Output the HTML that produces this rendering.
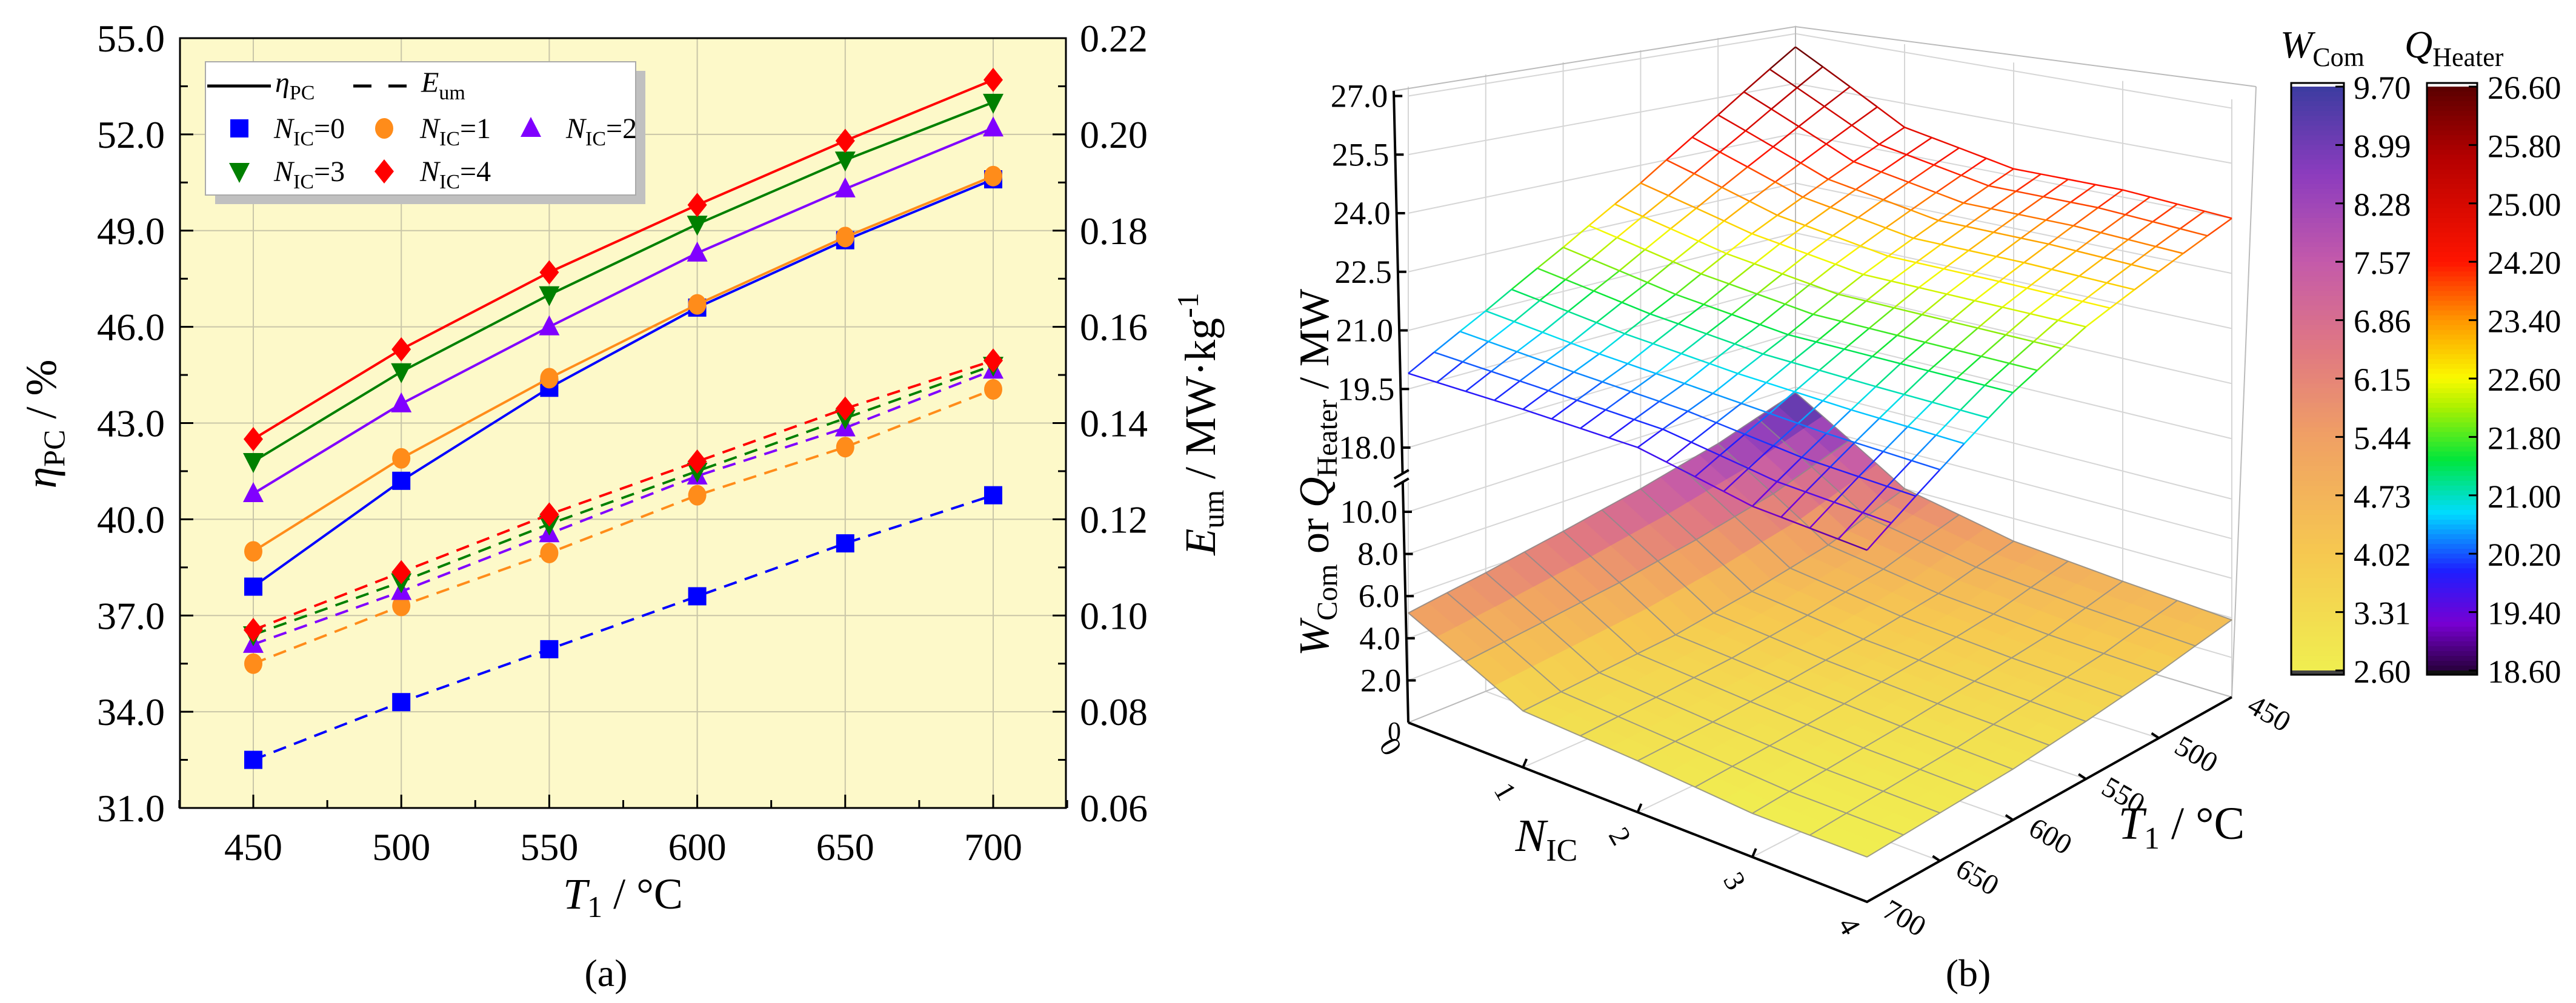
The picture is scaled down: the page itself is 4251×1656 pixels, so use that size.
<!DOCTYPE html>
<html><head><meta charset="utf-8"><style>
html,body{margin:0;padding:0;background:#fff}
svg{display:block;font-family:"Liberation Serif",serif}
</style></head><body>
<svg id="fig" width="4251" height="1656" viewBox="0 0 4251 1656" xmlns="http://www.w3.org/2000/svg">
<g id="pa"></g>
<g id="pb"></g>
</svg>
<script>
// ---------- Panel (a) data ----------
const temps = [450, 500, 550, 600, 650, 700];
const seriesNames = ["NIC=0","NIC=1","NIC=2","NIC=3","NIC=4"];
const etaN0 = [37.9, 41.2, 44.1, 46.6, 48.7, 50.6];
const etaN1 = [39.0, 41.9, 44.4, 46.7, 48.8, 50.7];
const etaN2 = [40.8, 43.6, 46.0, 48.3, 50.3, 52.2];
const etaN3 = [41.8, 44.6, 47.0, 49.2, 51.2, 53.0];
const etaN4 = [42.5, 45.3, 47.7, 49.8, 51.8, 53.7];
const eumN0 = [0.070, 0.082, 0.093, 0.104, 0.115, 0.125];
const eumN1 = [0.090, 0.102, 0.113, 0.125, 0.135, 0.147];
const eumN2 = [0.094, 0.105, 0.117, 0.129, 0.139, 0.151];
const eumN3 = [0.096, 0.107, 0.119, 0.130, 0.141, 0.152];
const eumN4 = [0.097, 0.109, 0.121, 0.132, 0.143, 0.153];
const leftTicks = [31, 34, 37, 40, 43, 46, 49, 52, 55];
const rightTicks = [0.06, 0.08, 0.10, 0.12, 0.14, 0.16, 0.18, 0.20, 0.22];
const xTicks = [450, 500, 550, 600, 650, 700];

// ---------- Panel (b) data (rows NIC 0..4, cols T1 450..700) ----------
const nicVals = [0, 1, 2, 3, 4];
const t1Vals = [450, 500, 550, 600, 650, 700];
const qN0 = [26.6, 25.0, 23.5, 22.2, 21.0, 19.9];
const qN1 = [24.8, 23.8, 22.8, 21.7, 20.7, 19.86];
const qN2 = [24.2, 23.3, 22.4, 21.4, 20.5, 19.77];
const qN3 = [24.2, 23.3, 22.4, 21.4, 20.3, 19.2];
const qN4 = [24.0, 23.2, 22.4, 21.4, 20.2, 19.0];
const wN0 = [9.7, 8.3, 7.3, 6.5, 5.8, 5.2];
const wN1 = [6.0, 4.6, 3.8, 3.2, 2.9, 2.6];
const wN2 = [4.8, 3.8, 3.2, 2.8, 2.5, 2.3];
const wN3 = [4.3, 3.4, 2.9, 2.5, 2.2, 1.9];
const wN4 = [3.9, 3.2, 2.7, 2.3, 2.1, 1.9];
const wBarLabels = ["9.70","8.99","8.28","7.57","6.86","6.15","5.44","4.73","4.02","3.31","2.60"];
const qBarLabels = ["26.60","25.80","25.00","24.20","23.40","22.60","21.80","21.00","20.20","19.40","18.60"];
const zLowTicks = [2, 4, 6, 8, 10];
const zHighTicks = [18, 19.5, 21, 22.5, 24, 25.5, 27];

const NS = "http://www.w3.org/2000/svg";
function mk(parent, tag, attrs, text) {
  const e = document.createElementNS(NS, tag);
  for (const k in attrs) e.setAttribute(k, attrs[k]);
  if (text !== undefined) e.textContent = text;
  parent.appendChild(e);
  return e;
}

// ================= Panel (a) =================
(function(){
  const g = document.getElementById('pa');
  const L = 297, R = 1759, T = 63, B = 1334;
  const xS = t => 418 + (t - 450) / 250 * (1639 - 418);
  const yL = v => B - (v - 31) / 24 * (B - T);
  const yR = e => B - (e - 0.06) / 0.16 * (B - T);
  let r = mk(g, 'rect', {x:L, y:T, width:R-L, height:B-T, fill:'#fdf9c9'});
  
  
  xTicks.forEach(t => {
    const l = mk(g, 'line', {x1:xS(t), x2:xS(t), y1:T, y2:B, stroke:'#c9c6a8', 'stroke-width':2});
    
    
  });
  leftTicks.forEach(v => {
    const l = mk(g, 'line', {x1:L, x2:R, y1:yL(v), y2:yL(v), stroke:'#c9c6a8', 'stroke-width':2});
    
    
  });
  const fr = mk(g, 'rect', {x:L, y:T, width:R-L, height:B-T, fill:'none', stroke:'#000', 'stroke-width':3});
  
  
  const tk = mk(g, 'g', {stroke:'#000', 'stroke-width':3});
  
  
  for (let t = 425; t <= 725; t += 25) {
    const len = (t % 50 === 0) ? 22 : 13;
    mk(tk, 'line', {x1:xS(t), x2:xS(t), y1:B, y2:B-len});
  }
  for (let v = 31; v <= 55; v += 1.5) {
    const len = (Math.abs((v - 31) % 3) < 0.01) ? 22 : 13;
    mk(tk, 'line', {x1:L, x2:L+len, y1:yL(v), y2:yL(v)});
  }
  for (let e = 0.06; e <= 0.2201; e += 0.01) {
    const len = (Math.round(e * 100) % 2 === 0) ? 22 : 13;
    mk(tk, 'line', {x1:R, x2:R-len, y1:yR(e), y2:yR(e)});
  }
  leftTicks.forEach(v => {
    const t = mk(g, 'text', {x:272, y:yL(v)+22, 'font-size':64, 'text-anchor':'end'}, v.toFixed(1));
    
    
  });
  rightTicks.forEach(e => {
    const t = mk(g, 'text', {x:1782, y:yR(e)+22, 'font-size':64}, e.toFixed(2));
    
    
  });
  xTicks.forEach(x => {
    const t = mk(g, 'text', {x:xS(x), y:1420, 'font-size':64, 'text-anchor':'middle'}, String(x));
    
    
  });
  let at = mk(g, 'text', {x:1028, y:1500, 'font-size':72, 'text-anchor':'middle'});
  
  
  at.innerHTML = '<tspan font-style="italic">T</tspan><tspan font-size="50" dy="14">1</tspan><tspan dy="-14"> / °C</tspan>';
  at = mk(g, 'text', {transform:'translate(92,700) rotate(-90)', 'font-size':72, 'text-anchor':'middle'});
  
  
  at.innerHTML = '<tspan font-style="italic">η</tspan><tspan font-size="50" dy="14">PC</tspan><tspan dy="-14"> / %</tspan>';
  at = mk(g, 'text', {transform:'translate(2005,700) rotate(-90)', 'font-size':72, 'text-anchor':'middle'});
  
  
  at.innerHTML = '<tspan font-style="italic">E</tspan><tspan font-size="50" dy="14">um</tspan><tspan dy="-14"> / MW·kg</tspan><tspan font-size="50" dy="-28">-1</tspan>';
  at = mk(g, 'text', {x:1000, y:1628, 'font-size':64, 'text-anchor':'middle'}, '(a)');
  
  

  const colors = ['#0000ff', '#ff8c1a', '#8000ff', '#008000', '#ff0000'];
  const shapes = ['square', 'circle', 'tri', 'tridown', 'diamond'];
  const etas = [etaN0, etaN1, etaN2, etaN3, etaN4];
  const eums = [eumN0, eumN1, eumN2, eumN3, eumN4];
  function marker(parent, shape, x, y, c) {
    let m;
    if (shape === 'square') m = mk(parent, 'rect', {x:x-15, y:y-15, width:30, height:30, fill:c});
    else if (shape === 'circle') m = mk(parent, 'ellipse', {cx:x, cy:y, rx:15, ry:17, fill:c});
    else if (shape === 'tri') m = mk(parent, 'polygon', {points:`${x},${y-19} ${x+17},${y+14} ${x-17},${y+14}`, fill:c});
    else if (shape === 'tridown') m = mk(parent, 'polygon', {points:`${x},${y+19} ${x+17},${y-14} ${x-17},${y-14}`, fill:c});
    else m = mk(parent, 'polygon', {points:`${x},${y-20} ${x+16},${y} ${x},${y+20} ${x-16},${y}`, fill:c});
    return m;
  }
  for (let s = 0; s < 5; s++) {
    const sg = mk(g, 'g', {});
    
    
    const p1 = temps.map((t, i) => xS(t) + ',' + yL(etas[s][i])).join(' ');
    const l1 = mk(sg, 'polyline', {points:p1, fill:'none', stroke:colors[s], 'stroke-width':4});
    
    
    const p2 = temps.map((t, i) => xS(t) + ',' + yR(eums[s][i])).join(' ');
    const l2 = mk(sg, 'polyline', {points:p2, fill:'none', stroke:colors[s], 'stroke-width':4, 'stroke-dasharray':'22 14'});
    
    
    temps.forEach((t, i) => {
      const m1 = marker(sg, shapes[s], xS(t), yL(etas[s][i]), colors[s]);
      
      
      const m2 = marker(sg, shapes[s], xS(t), yR(eums[s][i]), colors[s]);
      
      
    });
  }
  const lg = mk(g, 'g', {});
  
  
  mk(lg, 'rect', {x:355, y:117, width:710, height:220, fill:'#c0c0c0'});
  mk(lg, 'rect', {x:339, y:102, width:710, height:220, fill:'#fff', stroke:'#aaa', 'stroke-width':2});
  mk(lg, 'line', {x1:342, x2:447, y1:142, y2:142, stroke:'#000', 'stroke-width':5});
  mk(lg, 'line', {x1:583, x2:671, y1:142, y2:142, stroke:'#000', 'stroke-width':5, 'stroke-dasharray':'30 28'});
  let lt = mk(lg, 'text', {x:454, y:152, 'font-size':48});
  lt.innerHTML = '<tspan font-style="italic">η</tspan><tspan font-size="34" dy="12">PC</tspan>';
  
  
  lt = mk(lg, 'text', {x:695, y:152, 'font-size':48});
  lt.innerHTML = '<tspan font-style="italic">E</tspan><tspan font-size="34" dy="12">um</tspan>';
  
  
  const lpos = [[395,212,452],[634,212,693],[876,212,934],[395,283,452],[634,283,693]];
  for (let s = 0; s < 5; s++) {
    const [mx, my, tx] = lpos[s];
    const m = marker(lg, shapes[s], mx, my, colors[s]);
    
    
    const t = mk(lg, 'text', {x:tx, y:my+16, 'font-size':48});
    t.innerHTML = '<tspan font-style="italic">N</tspan><tspan font-size="34" dy="12">IC</tspan><tspan dy="-12">=' + s + '</tspan>';
    
    
  }
})();

// ================= Panel (b) =================
(function(){
  const g = document.getElementById('pb');
  const LC = [2324,1193], BK = [2963,935], RB = [3683,1151], FC = [3081,1489];
  const fLC = 1, fBK = 0.85, fRB = 0.94, fFC = 1.12;
  function bil(a, b, c, d, u, v) {
    return (1-u)*(1-v)*a + (1-u)*v*b + u*v*c + u*(1-v)*d;
  }
  function floorPt(n, t) {
    const u = n / 4, v = (700 - t) / 250;
    return [bil(LC[0],BK[0],RB[0],FC[0],u,v), bil(LC[1],BK[1],RB[1],FC[1],u,v), bil(fLC,fBK,fRB,fFC,u,v)];
  }
  const hW = (z, f) => z * 34.8 * f;
  const hQ = (q, f) => f * (454 + (q - 18) * 64.5);
  function proj(n, t, h) { const p = floorPt(n, t); return [p[0], p[1] - h(p[2])]; }

  function lerpColor(stops, x) {
    x = Math.max(0, Math.min(1, x));
    for (let i = 0; i < stops.length - 1; i++) {
      const [a, ca] = stops[i], [b, cb] = stops[i+1];
      if (x >= a && x <= b) {
        const k = (x - a) / (b - a || 1);
        return 'rgb(' + [0,1,2].map(j => Math.round(ca[j] + (cb[j]-ca[j])*k)).join(',') + ')';
      }
    }
    return 'rgb(' + stops[stops.length-1][1].join(',') + ')';
  }
  const wStops = [[0,[240,238,80]],[0.2,[246,200,80]],[0.4,[240,160,100]],[0.55,[224,120,130]],[0.7,[196,90,170]],[0.85,[140,60,190]],[1,[60,60,160]]];
  const qStops = [[0,[40,0,60]],[0.08,[120,0,210]],[0.17,[30,30,255]],[0.27,[0,220,255]],[0.36,[0,230,60]],[0.45,[170,240,0]],[0.5,[250,250,0]],[0.6,[255,150,0]],[0.7,[255,20,0]],[0.88,[180,0,0]],[1,[90,0,0]]];

  const wall = mk(g, 'g', {stroke:'#d6d6d6', 'stroke-width':2, fill:'none'});
  
  
  t1Vals.forEach(t => { const a = proj(0, t, () => 0), b = proj(0, t, f => f*1050); mk(wall, 'line', {x1:a[0], y1:a[1], x2:b[0], y2:b[1]}); });
  nicVals.forEach(n => { const a = proj(n, 450, () => 0), b = proj(n, 450, f => f*1050); mk(wall, 'line', {x1:a[0], y1:a[1], x2:b[0], y2:b[1]}); });
  zLowTicks.forEach(z => {
    const a = proj(0,700,f=>hW(z,f)), b = proj(0,450,f=>hW(z,f)), c = proj(4,450,f=>hW(z,f));
    mk(wall, 'polyline', {points:`${a} ${b} ${c}`});
  });
  zHighTicks.forEach(q => {
    const a = proj(0,700,f=>hQ(q,f)), b = proj(0,450,f=>hQ(q,f)), c = proj(4,450,f=>hQ(q,f));
    mk(wall, 'polyline', {points:`${a} ${b} ${c}`});
  });
  nicVals.forEach(n => { const a = proj(n,700,()=>0), b = proj(n,450,()=>0); mk(wall,'line',{x1:a[0],y1:a[1],x2:b[0],y2:b[1]}); });
  t1Vals.forEach(t => { const a = proj(0,t,()=>0), b = proj(4,t,()=>0); mk(wall,'line',{x1:a[0],y1:a[1],x2:b[0],y2:b[1]}); });
  const frm = mk(g, 'g', {stroke:'#bbb', 'stroke-width':2, fill:'none'});
  
  
  mk(frm, 'polyline', {points:'2300,150 2963,44 3723,143'});
  mk(frm, 'line', {x1:2963, y1:44, x2:2963, y2:935});
  mk(frm, 'line', {x1:3723, y1:143, x2:3683, y2:1151});
  mk(frm, 'polyline', {points:`${LC} ${BK} ${RB}`});

  const W = [wN0, wN1, wN2, wN3, wN4];
  let wmin = Infinity, wmax = -Infinity;
  W.forEach(r => r.forEach(v => { wmin = Math.min(wmin, v); wmax = Math.max(wmax, v); }));
  const SUB = 4;
  function interp(M, n, ti) {
    const i0 = Math.min(Math.floor(n), 3), j0 = Math.min(Math.floor(ti), 4);
    const a = n - i0, b = ti - j0;
    return (1-a)*(1-b)*M[i0][j0] + a*(1-b)*M[i0+1][j0] + (1-a)*b*M[i0][j0+1] + a*b*M[i0+1][j0+1];
  }
  const surfW = mk(g, 'g', {});
  
  
  const cells = [];
  for (let i = 0; i < 4*SUB; i++) for (let j = 0; j < 5*SUB; j++) cells.push([i, j]);
  cells.sort((p, q) => (p[0] + p[1]) - (q[0] + q[1]));
  const tOf = ti => 450 + ti * 50;
  cells.forEach(([i, j]) => {
    const pts = [[i,j],[i+1,j],[i+1,j+1],[i,j+1]].map(([a,b]) => {
      const n = a / SUB, ti = b / SUB, z = interp(W, n, ti);
      return proj(n, tOf(ti), f => hW(z, f));
    });
    const zc = interp(W, (i+0.5)/SUB, (j+0.5)/SUB);
    const col = lerpColor(wStops, (zc - wmin) / (wmax - wmin));
    const p = mk(surfW, 'polygon', {points:pts.map(p=>p.join(',')).join(' '), fill:col, stroke:col, 'stroke-width':1.2});
    
    
  });
  const wg = mk(g, 'g', {stroke:'#8a8a8a', 'stroke-width':2, fill:'none', opacity:0.8});
  
  
  for (let a = 0; a <= 4*2; a++) {
    const pts = []; for (let b = 0; b <= 5*SUB; b++) { const n = a/2, ti = b/SUB; pts.push(proj(n, tOf(ti), f => hW(interp(W,n,ti), f))); }
    mk(wg, 'polyline', {points:pts.map(p=>p.join(',')).join(' ')});
  }
  for (let b = 0; b <= 5*2; b++) {
    const pts = []; for (let a = 0; a <= 4*SUB; a++) { const n = a/SUB, ti = b/2; pts.push(proj(n, tOf(ti), f => hW(interp(W,n,ti), f))); }
    mk(wg, 'polyline', {points:pts.map(p=>p.join(',')).join(' ')});
  }

  const Q = [qN0, qN1, qN2, qN3, qN4];
  let qmin = 18.6, qmax = 26.6;
  const qg = mk(g, 'g', {fill:'none', 'stroke-width':2.5});
  
  
  const QS = 4, QT = 3;
  for (let a = 0; a <= 4*QS; a++) {
    for (let b = 0; b < 5*QT; b++) {
      const n = a/QS, t0 = b/QT, t1 = (b+1)/QT;
      const q0 = interp(Q,n,t0), q1 = interp(Q,n,t1);
      const p0 = proj(n,tOf(t0),f=>hQ(q0,f)), p1 = proj(n,tOf(t1),f=>hQ(q1,f));
      const l = mk(qg, 'line', {x1:p0[0], y1:p0[1], x2:p1[0], y2:p1[1], stroke:lerpColor(qStops, ((q0+q1)/2 - qmin)/(qmax-qmin))});
      
      
    }
  }
  for (let b = 0; b <= 5*QT; b++) {
    for (let a = 0; a < 4*QS; a++) {
      const ti = b/QT, n0 = a/QS, n1 = (a+1)/QS;
      const q0 = interp(Q,n0,ti), q1 = interp(Q,n1,ti);
      const p0 = proj(n0,tOf(ti),f=>hQ(q0,f)), p1 = proj(n1,tOf(ti),f=>hQ(q1,f));
      const l = mk(qg, 'line', {x1:p0[0], y1:p0[1], x2:p1[0], y2:p1[1], stroke:lerpColor(qStops, ((q0+q1)/2 - qmin)/(qmax-qmin))});
      
      
    }
  }

  const ax = mk(g, 'g', {stroke:'#000', 'stroke-width':4, fill:'none'});
  
  
  mk(ax, 'polyline', {points:`2300,150 2324,1193`});
  mk(ax, 'polyline', {points:`${LC} ${FC} ${RB}`});
  const zl = mk(g, 'g', {'font-size':54, 'text-anchor':'end'});
  
  
  function axX(y) { return 2324 - (1193 - y) / 1043 * 24; }
  zLowTicks.forEach(z => { const y = 1193 - hW(z,1); mk(ax,'line',{x1:axX(y),y1:y,x2:axX(y)+14,y2:y}); const t = mk(zl,'text',{x:axX(y)-10,y:y+18},z.toFixed(1));   });
  zHighTicks.forEach(q => { const y = 1193 - hQ(q,1); mk(ax,'line',{x1:axX(y),y1:y,x2:axX(y)+14,y2:y}); const t = mk(zl,'text',{x:axX(y)-10,y:y+18},q.toFixed(1));   });
  const t0 = mk(zl, 'text', {x:2312, y:1222, 'font-size':44}, '0');
  
  
  const brk = mk(g, 'g', {stroke:'#000', 'stroke-width':4});
  
  
  mk(brk, 'rect', {x:axX(792)-12, y:782, width:26, height:14, fill:'#fff', stroke:'none'});
  mk(brk, 'line', {x1:axX(792)-14, y1:790, x2:axX(792)+10, y2:776});
  mk(brk, 'line', {x1:axX(792)-14, y1:804, x2:axX(792)+10, y2:790});
  nicVals.forEach(n => {
    const p = floorPt(n, 700);
    if (n > 0 && n < 4) mk(ax, 'line', {x1:p[0], y1:p[1], x2:p[0]+6, y2:p[1]-14});
    const t = mk(g, 'text', {x:p[0]-30, y:p[1]+55, 'font-size':48, 'text-anchor':'middle', transform:`rotate(60 ${p[0]-30} ${p[1]+40})`}, String(n));
    
    
  });
  t1Vals.forEach(tv => {
    const p = floorPt(4, tv);
    if (tv > 450 && tv < 700) mk(ax, 'line', {x1:p[0], y1:p[1], x2:p[0]-12, y2:p[1]-8});
    const t = mk(g, 'text', {x:p[0]+60, y:p[1]+42, 'font-size':48, 'text-anchor':'middle', transform:`rotate(30 ${p[0]+60} ${p[1]+30})`}, String(tv));
    
    
  });
  let tt = mk(g, 'text', {x:2552, y:1405, 'font-size':76, 'text-anchor':'middle'});
  tt.innerHTML = '<tspan font-style="italic">N</tspan><tspan font-size="52" dy="16">IC</tspan>';
  
  
  tt = mk(g, 'text', {x:3600, y:1385, 'font-size':76, 'text-anchor':'middle'});
  tt.innerHTML = '<tspan font-style="italic">T</tspan><tspan font-size="52" dy="16">1</tspan><tspan dy="-16"> / °C</tspan>';
  
  
  tt = mk(g, 'text', {transform:'translate(2192,780) rotate(-90)', 'font-size':70, 'text-anchor':'middle'});
  tt.innerHTML = '<tspan font-style="italic">W</tspan><tspan font-size="48" dy="14">Com</tspan><tspan dy="-14"> or </tspan><tspan font-style="italic">Q</tspan><tspan font-size="48" dy="14">Heater</tspan><tspan dy="-14"> / MW</tspan>';
  
  
  tt = mk(g, 'text', {x:3248, y:1628, 'font-size':64, 'text-anchor':'middle'}, '(b)');
  
  

  function colorbar(x, w, stops, labels, lx, name, minColor, maxColor) {
    const cb = mk(g, 'g', {});
    
    
    const top = 143, bot = 1107, N = 120;
    for (let i = 0; i < N; i++) {
      const y = top + (bot - top) * i / N;
      mk(cb, 'rect', {x:x, y:y, width:w, height:(bot-top)/N + 1, fill:lerpColor(stops, 1 - (i + 0.5) / N)});
    }
    mk(cb, 'rect', {x:x, y:137, width:w, height:6, fill:maxColor});
    mk(cb, 'rect', {x:x, y:1107, width:w, height:7, fill:minColor});
    mk(cb, 'rect', {x:x, y:137, width:w, height:977, fill:'none', stroke:'#000', 'stroke-width':3});
    labels.forEach((lab, i) => {
      const y = 143 + (1107 - 143) * i / (labels.length - 1);
      mk(cb, 'line', {x1:x+w-14, x2:x+w, y1:y, y2:y, stroke:'#000', 'stroke-width':3});
      const t = mk(cb, 'text', {x:lx, y:y+20, 'font-size':54}, lab);
      
      
    });
  }
  colorbar(3781, 87, wStops, wBarLabels, 3884, 'wcom-colorbar', '#444', '#fff');
  colorbar(4005, 83, qStops, qBarLabels, 4105, 'qheater-colorbar', '#111', '#fff');
  tt = mk(g, 'text', {x:3763, y:95, 'font-size':64});
  tt.innerHTML = '<tspan font-style="italic">W</tspan><tspan font-size="44" dy="14">Com</tspan>';
  
  
  tt = mk(g, 'text', {x:3968, y:95, 'font-size':64});
  tt.innerHTML = '<tspan font-style="italic">Q</tspan><tspan font-size="44" dy="14">Heater</tspan>';
  
  
})();
</script>
</body></html>
